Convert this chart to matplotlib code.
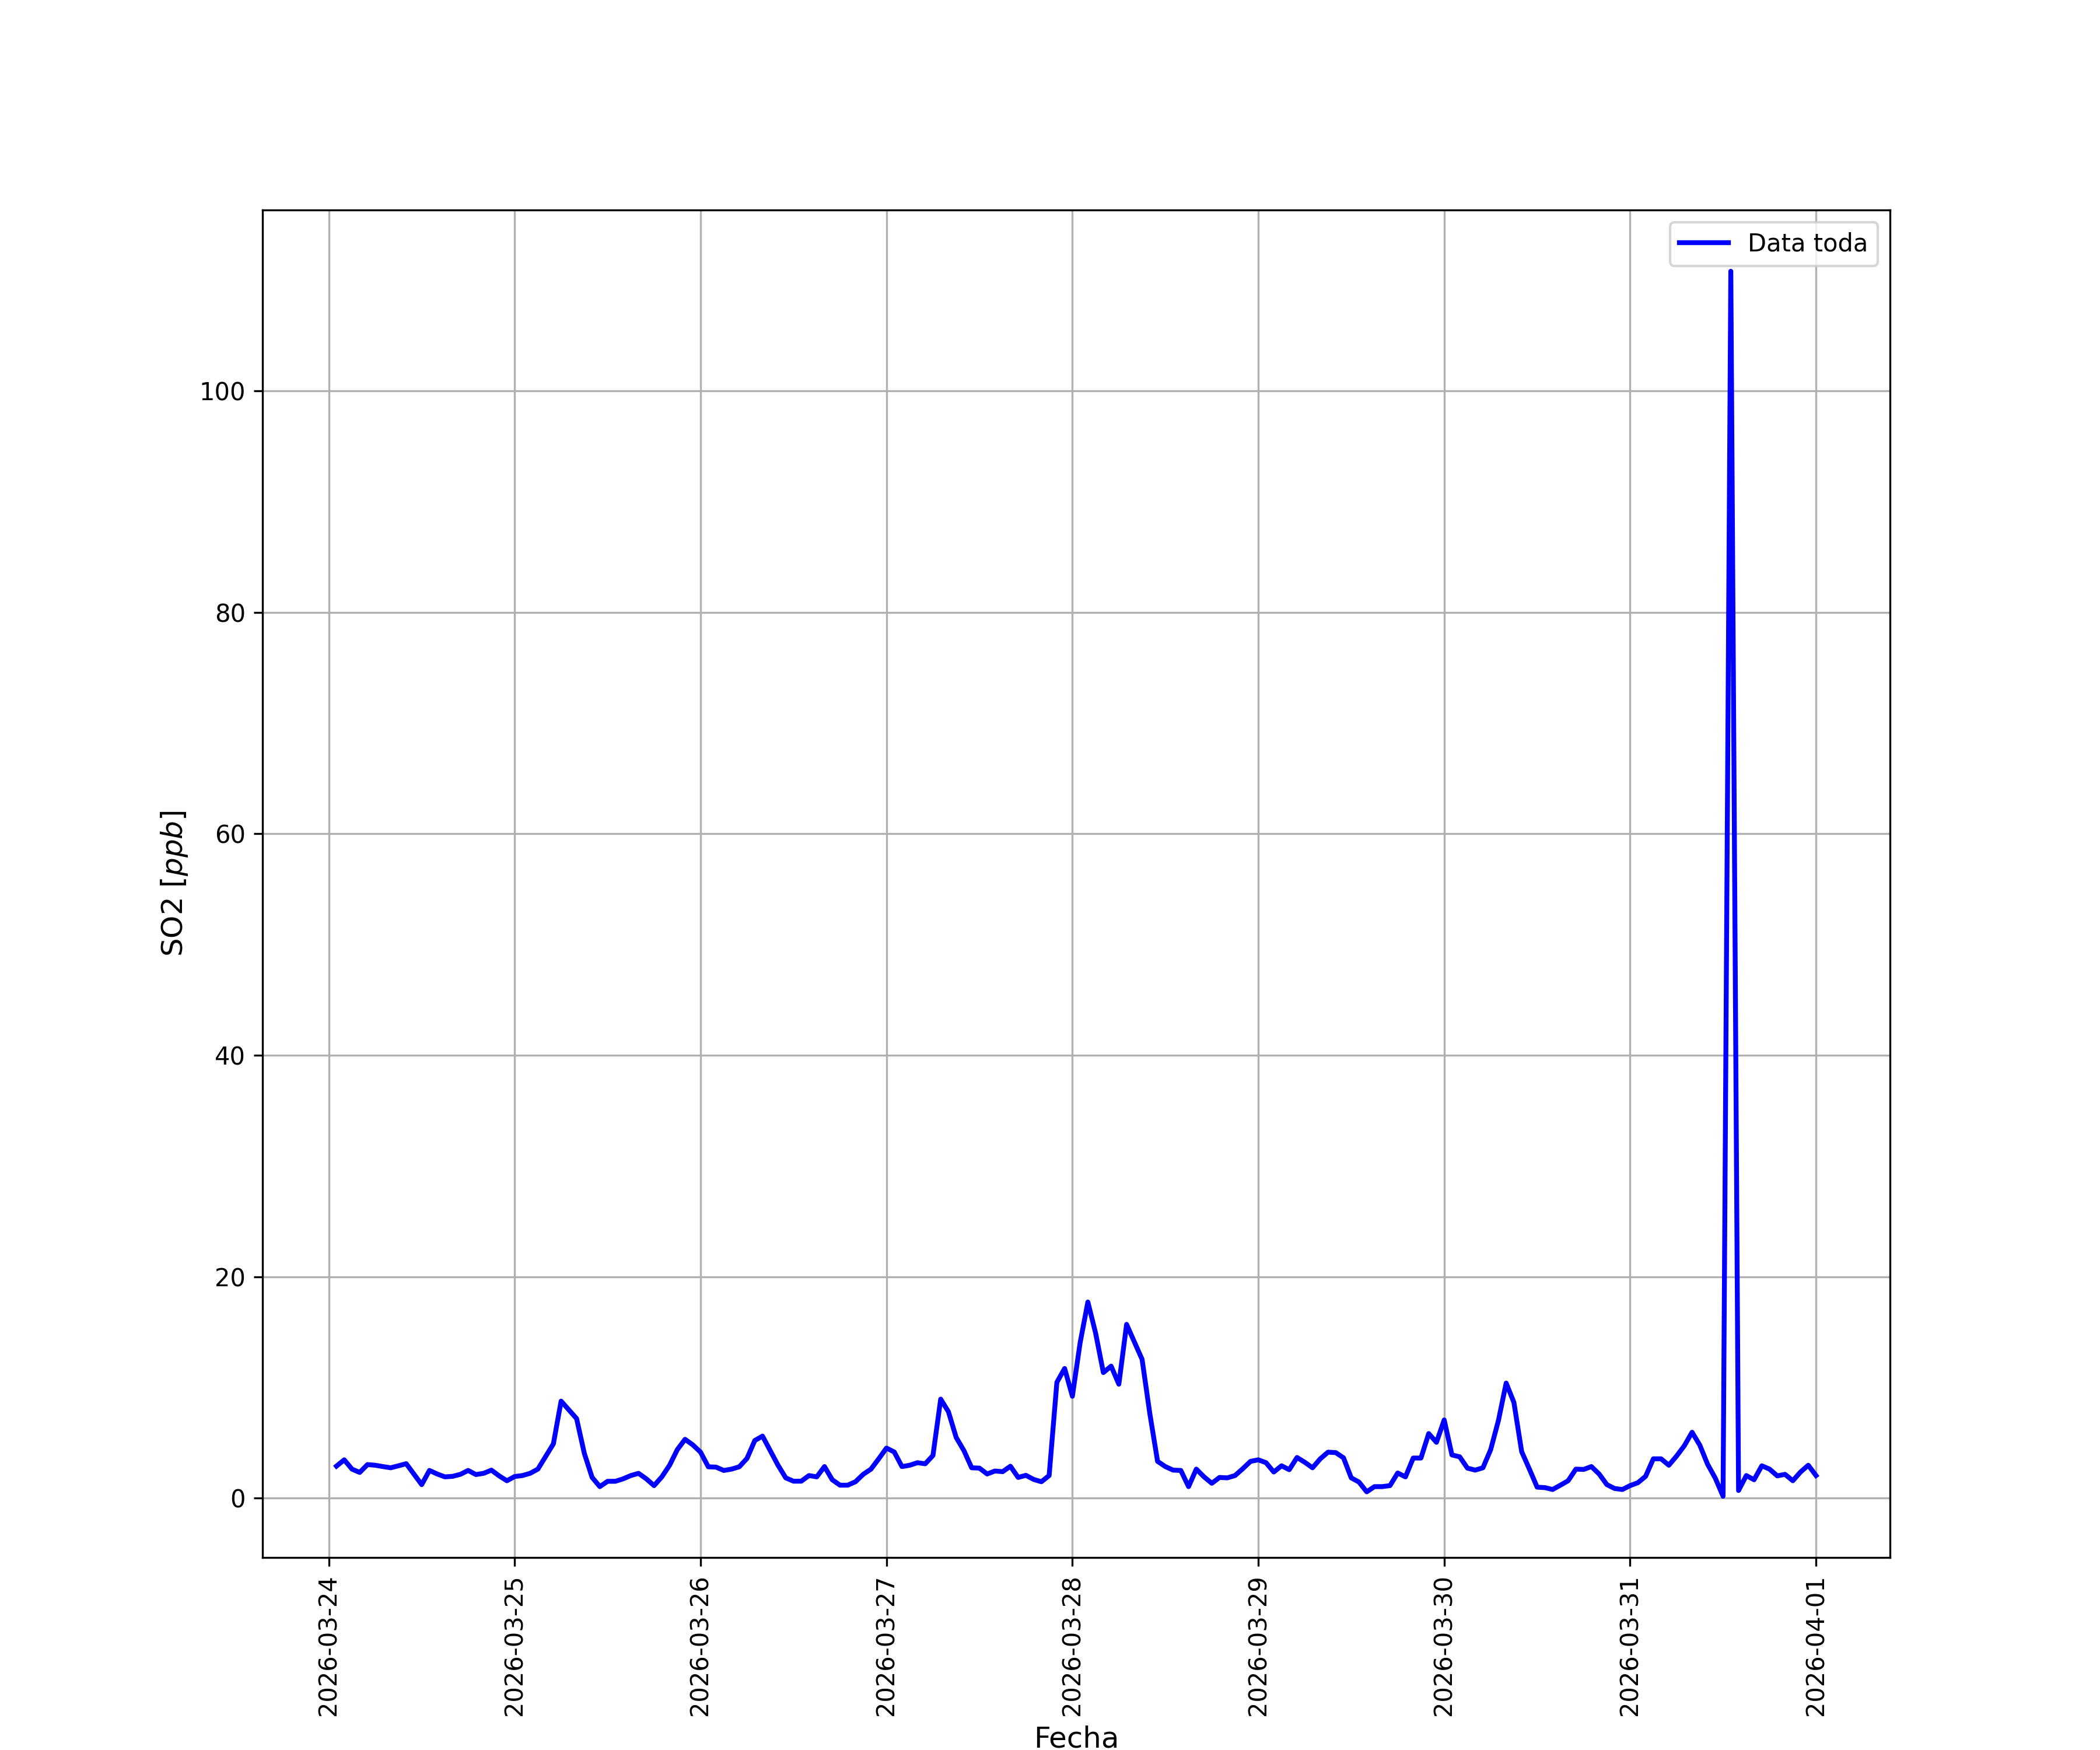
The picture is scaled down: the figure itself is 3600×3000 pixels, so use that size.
import matplotlib
matplotlib.use('Agg')
import matplotlib.pyplot as plt
import matplotlib.dates as mdates
import pandas as pd

# hourly SO2 readings, 2026-03-24 01:00 -> 2026-04-01 00:00
start = '2026-03-24 01:00'
so2 = [
    2.90, 3.47, 2.63, 2.33, 3.04, 2.98, 2.86, 2.75, 2.93, 3.12,
    2.18, 1.23, 2.51, 2.19, 1.93, 1.98, 2.16, 2.51, 2.14, 2.25,
    2.54, 2.02, 1.58, 1.96, 2.05, 2.25, 2.63, 3.77, 4.91, 8.77,
    7.98, 7.19, 4.04, 1.88, 1.05, 1.53, 1.53, 1.75, 2.05, 2.25,
    1.75, 1.14, 1.93, 2.98, 4.39, 5.32, 4.82, 4.16, 2.84, 2.81,
    2.51, 2.63, 2.84, 3.60, 5.21, 5.61, 4.30, 2.98, 1.84, 1.54,
    1.54, 2.05, 1.93, 2.86, 1.67, 1.18, 1.18, 1.49, 2.16, 2.63,
    3.56, 4.53, 4.18, 2.86, 2.98, 3.21, 3.11, 3.86, 8.95, 7.81,
    5.49, 4.30, 2.75, 2.72, 2.19, 2.46, 2.40, 2.89, 1.88, 2.07,
    1.70, 1.49, 2.05, 10.47, 11.72, 9.21, 14.04, 17.72, 14.91, 11.35,
    11.93, 10.30, 15.70, 14.12, 12.54, 7.63, 3.33, 2.86, 2.54, 2.51,
    1.05, 2.63, 1.93, 1.35, 1.88, 1.84, 2.05, 2.67, 3.33, 3.47,
    3.21, 2.37, 2.93, 2.58, 3.68, 3.25, 2.75, 3.56, 4.16, 4.12,
    3.65, 1.84, 1.46, 0.58, 1.05, 1.05, 1.14, 2.28, 1.93, 3.63,
    3.63, 5.84, 5.05, 7.07, 3.91, 3.74, 2.72, 2.54, 2.75, 4.39,
    7.02, 10.40, 8.65, 4.21, 2.63, 1.00, 0.96, 0.79, 1.18, 1.58,
    2.63, 2.60, 2.86, 2.19, 1.23, 0.88, 0.79, 1.14, 1.40, 1.98,
    3.56, 3.56, 2.98, 3.81, 4.74, 5.96, 4.79, 3.07, 1.81, 0.18,
    110.8, 0.70, 2.05, 1.67, 2.93, 2.63, 2.02, 2.16, 1.58, 2.37,
    2.98, 2.05,
]
fechas = pd.date_range(start, periods=len(so2), freq='h')

fig, ax = plt.subplots(figsize=(12, 10))
ax.plot(fechas, so2, color='blue', lw=2, label='Data toda')

ax.xaxis.set_major_locator(mdates.DayLocator())
ax.xaxis.set_major_formatter(mdates.DateFormatter('%Y-%m-%d'))
plt.xticks(rotation=90)

ax.set_xlabel('Fecha', fontsize=12)
ax.set_ylabel('SO2 [$ppb$]', fontsize=12)
ax.legend(loc='upper right')
ax.grid(True)

plt.savefig('out.png', dpi=300)
